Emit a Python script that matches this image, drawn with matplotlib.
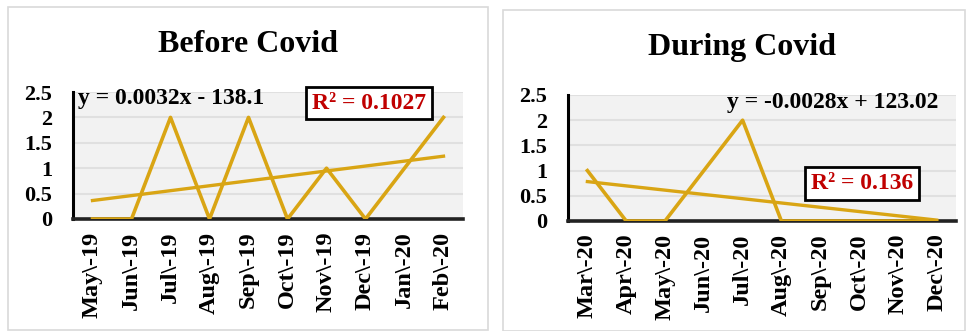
import numpy as np
import matplotlib
matplotlib.use("Agg")
import matplotlib.pyplot as plt
import matplotlib.patches as patches

plt.rcParams['font.family'] = ['Liberation Serif', 'DejaVu Serif']
plt.rcParams['font.weight'] = 'bold'

# data
before_months = ["May\\-19", "Jun\\-19", "Jul\\-19", "Aug\\-19", "Sep\\-19",
                 "Oct\\-19", "Nov\\-19", "Dec\\-19", "Jan\\-20", "Feb\\-20"]
before_vals = [0, 0, 2, 0, 2, 0, 1, 0, 1, 2]

during_months = ["Mar\\-20", "Apr\\-20", "May\\-20", "Jun\\-20", "Jul\\-20",
                 "Aug\\-20", "Sep\\-20", "Oct\\-20", "Nov\\-20", "Dec\\-20"]
during_vals = [1, 0, 0, 1, 2, 0, 0, 0, 0, 0]

y_ticks = [0, 0.5, 1, 1.5, 2, 2.5]
y_tick_labels = ["0", "0.5", "1", "1.5", "2", "2.5"]

line_color = '#D9A514'

fig = plt.figure(figsize=(9.7, 3.31), dpi=100)

# panel frames
fig.patches.append(patches.Rectangle((8 / 970, 1 / 331), 480 / 970, 323 / 331,
                                     transform=fig.transFigure, fill=False,
                                     edgecolor='#d9d9d9', linewidth=1.2))
fig.patches.append(patches.Rectangle((503 / 970, 0), 462 / 970, 321 / 331,
                                     transform=fig.transFigure, fill=False,
                                     edgecolor='#d9d9d9', linewidth=1.2))


def draw_panel(rect, months, vals, title, title_xy, eq_text, eq_pos, eq_ha, r2_text, r2_pos):
    ax = fig.add_axes(rect)
    x = np.arange(len(months))
    ax.set_facecolor('#f2f2f2')
    for yv in y_ticks[1:]:
        ax.axhline(yv, color='#e0e0e0', linewidth=1.5, zorder=0)
    ax.plot(x, vals, color=line_color, linewidth=2.6, zorder=3)
    # linear trendline
    slope, icpt = np.polyfit(x, vals, 1)
    ax.plot(x, slope * x + icpt, color=line_color, linewidth=2.4, zorder=3)

    ax.set_xlim(-0.5, len(months) - 0.5)
    ax.set_ylim(0, 2.5)
    ax.set_yticks(y_ticks)
    ax.set_yticklabels(y_tick_labels, fontsize=16, fontweight='bold')
    ax.set_xticks(x)
    ax.set_xticklabels(months, rotation=90, fontsize=17.5, fontweight='bold')
    ax.tick_params(axis='y', length=0, pad=15)
    ax.tick_params(axis='x', length=0, pad=9)
    for side in ['top', 'right']:
        ax.spines[side].set_visible(False)
    ax.spines['left'].set_linewidth(2.2)
    ax.spines['bottom'].set_linewidth(2.6)
    ax.spines['bottom'].set_color('#222222')

    fig.text(title_xy[0], title_xy[1], title, ha='center', va='center',
             fontsize=23, fontweight='bold')
    ax.text(eq_pos[0], eq_pos[1], eq_text, transform=ax.transAxes, ha=eq_ha,
            va='center', fontsize=17, fontweight='bold', zorder=5)
    ax.text(r2_pos[0], r2_pos[1], r2_text, transform=ax.transAxes, ha='center',
            va='center', fontsize=17, fontweight='bold', color='#C00000', zorder=5,
            bbox=dict(boxstyle='square,pad=0.25', facecolor='white',
                      edgecolor='black', linewidth=2))
    return ax


draw_panel([73 / 970, 1 - 219 / 331, 390 / 970, 127 / 331],
           before_months, before_vals, "Before Covid", (248 / 970, 1 - 45 / 331),
           "y = 0.0032x - 138.1", (0.013, 0.95), 'left',
           "R² = 0.1027", (0.76, 0.913))

draw_panel([568 / 970, 1 - 221 / 331, 388 / 970, 126 / 331],
           during_months, during_vals, "During Covid", (742 / 970, 1 - 48 / 331),
           "y = -0.0028x + 123.02", (0.954, 0.937), 'right',
           "R² = 0.136", (0.758, 0.30))

fig.savefig("out.png", dpi=100)
